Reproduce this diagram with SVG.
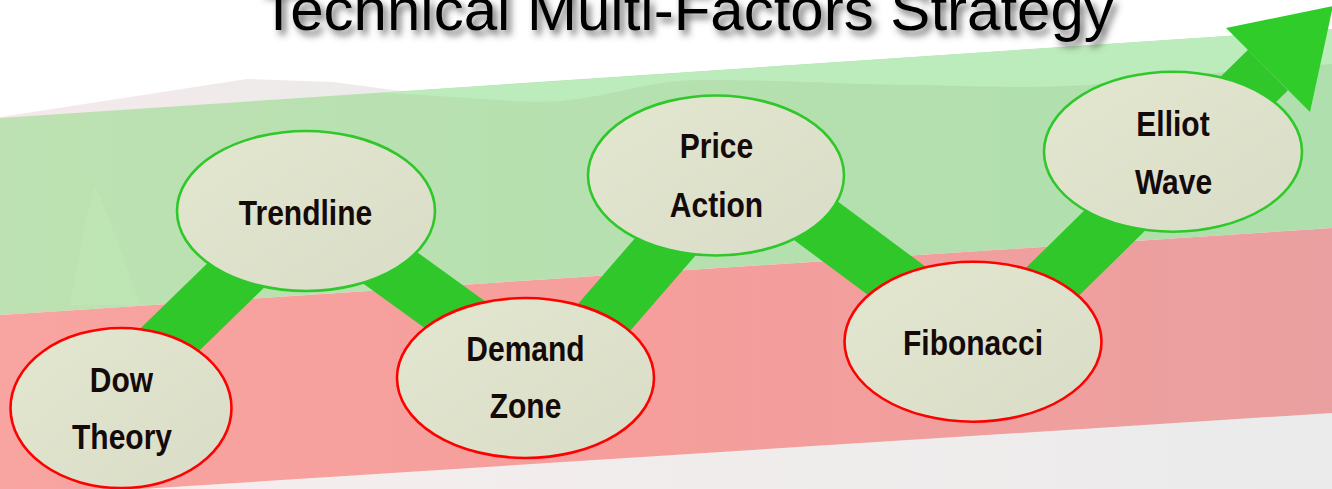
<svg xmlns="http://www.w3.org/2000/svg" width="1332" height="489" viewBox="0 0 1332 489">
<defs>
<style>
.node-green{fill:url(#nodeFill);stroke:#2ec82a;stroke-width:2.6}
.node-red{fill:url(#nodeFill);stroke:#ff0000;stroke-width:2.6}
.lbl{font-family:"Liberation Sans",Arial,Helvetica,sans-serif;font-weight:bold;font-size:30px;fill:#140a0a;text-anchor:middle}
.title{font-family:"Liberation Sans",Arial,Helvetica,sans-serif;font-size:60px;fill:#000;text-anchor:middle}
</style>
<linearGradient id="nodeFill" x1="0" y1="0" x2="1" y2="1">
<stop offset="0" stop-color="#e3e7d0"/>
<stop offset="1" stop-color="#d9ddc7"/>
</linearGradient>
<linearGradient id="greenBand" x1="0" y1="0" x2="1" y2="0">
<stop offset="0" stop-color="#bde1b2"/>
<stop offset="1" stop-color="#aedfac"/>
</linearGradient>
<linearGradient id="redBand" x1="0" y1="0" x2="1" y2="0">
<stop offset="0" stop-color="#f8a4a0"/>
<stop offset="0.5" stop-color="#f59e9c"/>
<stop offset="1" stop-color="#eaa0a0"/>
</linearGradient>
<linearGradient id="bottomFill" x1="0" y1="0" x2="1" y2="0">
<stop offset="0" stop-color="#f7eeee"/>
<stop offset="1" stop-color="#ebebeb"/>
</linearGradient>
<linearGradient id="topGhost" x1="0" y1="0" x2="1" y2="0">
<stop offset="0" stop-color="#f5e9ea"/>
<stop offset="1" stop-color="#ebebeb"/>
</linearGradient>
<filter id="shadow" x="-5%" y="-50%" width="110%" height="200%">
<feDropShadow dx="4" dy="5" stdDeviation="3.5" flood-color="#444" flood-opacity="0.8"/>
</filter>
</defs>

<!-- background -->
<rect x="0" y="0" width="1332" height="489" fill="#ffffff"/>
<polygon points="0,117 247,79 333,82 430,95 430,200 0,200" fill="url(#topGhost)"/>
<polygon points="0,480 1332,395 1332,489 0,489" fill="url(#bottomFill)"/>
<polygon points="0,118 1332,29 1332,228 0,315" fill="url(#greenBand)"/>
<path d="M380,93 C460,96 520,104 560,101 C620,95 650,80 700,80 C800,80 860,85 920,85 C1000,87 1060,89 1120,82 C1200,74 1270,68 1332,64 L1332,29 Z" fill="#bcecbb"/>
<polygon points="0,315 1332,228 1332,413 0,498" fill="url(#redBand)"/>
<path d="M70,305 C80,250 88,205 95,185 C108,215 125,260 140,305 Z" fill="#c4eeb8" opacity="0.35"/>

<!-- title -->
<text class="title" x="687" y="30" filter="url(#shadow)">Technical Multi-Factors Strategy</text>

<!-- connectors -->
<g id="connectors">
<polyline points="115,393 306,207 548,382 738,163 986,347 1268,70" fill="none" stroke="#30c72a" stroke-width="57" stroke-linejoin="miter" stroke-miterlimit="10"/>
<polygon points="1226,28 1333,6 1310,112" fill="#30cd2a"/>
</g>

<!-- nodes -->
<g id="node-dow-theory">
<ellipse class="node-red" cx="121" cy="408" rx="110.5" ry="80"/>
<text class="lbl" transform="translate(121.5,392) scale(1,1.15)">Dow</text>
<text class="lbl" transform="translate(122,449) scale(1,1.15)">Theory</text>
</g>
<g id="node-trendline">
<ellipse class="node-green" cx="306" cy="211" rx="129" ry="80"/>
<text class="lbl" transform="translate(305.5,225) scale(1,1.15)">Trendline</text>
</g>
<g id="node-demand-zone">
<ellipse class="node-red" cx="525.5" cy="378" rx="128.5" ry="80"/>
<text class="lbl" transform="translate(525.5,361) scale(1,1.15)">Demand</text>
<text class="lbl" transform="translate(525.5,418) scale(1,1.15)">Zone</text>
</g>
<g id="node-price-action">
<ellipse class="node-green" cx="716" cy="175.5" rx="128" ry="80"/>
<text class="lbl" transform="translate(716.5,158) scale(1,1.15)">Price</text>
<text class="lbl" transform="translate(716.5,217) scale(1,1.15)">Action</text>
</g>
<g id="node-fibonacci">
<ellipse class="node-red" cx="973" cy="341.7" rx="128.5" ry="80"/>
<text class="lbl" transform="translate(973,355) scale(1,1.15)">Fibonacci</text>
</g>
<g id="node-elliot-wave">
<ellipse class="node-green" cx="1173" cy="151.7" rx="129" ry="80"/>
<text class="lbl" transform="translate(1173,136) scale(1,1.15)">Elliot</text>
<text class="lbl" transform="translate(1173.5,194) scale(1,1.15)">Wave</text>
</g>
</svg>
